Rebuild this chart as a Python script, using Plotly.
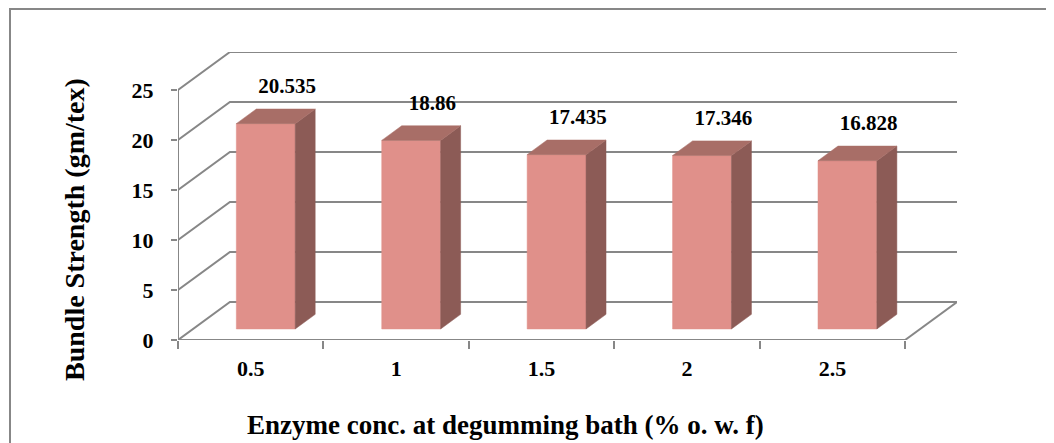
import plotly.graph_objects as go

# ---- data ----
categories = ["0.5", "1", "1.5", "2", "2.5"]
strength = [20.535, 18.86, 17.435, 17.346, 16.828]
y_ticks = [0, 5, 10, 15, 20, 25]
x_title = "Enzyme conc. at degumming bath (% o. w. f)"
y_title = "Bundle Strength (gm/tex)"

# ---- 3D projection parameters (in data units) ----
DX = 0.357      # depth shift along x (category units)
DY = 3.8        # depth shift along y (value units)
F1, F2 = 0.29, 0.675   # bar front/back depth fractions
HALF_W = 0.2025        # half width of bar front face
YMAX = 25

GRID = "#878787"
FRONT = "#E0908A"
TOP = "#A86E67"
SIDE = "#8C5B56"
FONT = "Liberation Serif"

# figure geometry (page has an 8px body margin)
W, H = 1046, 435
ML, MR, MT, MB = 170, 97, 44, 103
PW, PH = W - ML - MR, H - MT - MB

def px(xf):
    return (xf - ML) / PW

def py(yf):
    return (H - MB - yf) / PH

fig = go.Figure()

def line(xs, ys, color=GRID, width=2):
    fig.add_trace(go.Scatter(x=xs, y=ys, mode="lines", line=dict(color=color, width=width),
                             hoverinfo="skip", showlegend=False, cliponaxis=False))

n = len(categories)
x_left, x_right = -0.5, n - 0.5

# back wall gridlines + side wall diagonals
for v in y_ticks:
    line([x_left, x_left + DX, x_right + DX], [v, v + DY, v + DY])
# floor right edge
line([x_right, x_right + DX], [0, DY])
# front axes
line([x_left, x_left], [0, YMAX])
line([x_left, x_right], [0, 0])

# bars
for i, v in enumerate(strength):
    xc = i + F1 * DX
    xl, xr = xc - HALF_W, xc + HALF_W
    b = F1 * DY
    t = v + F1 * DY
    ddx = (F2 - F1) * DX
    ddy = (F2 - F1) * DY
    poly = lambda xs, ys, c: fig.add_trace(go.Scatter(
        x=xs, y=ys, fill="toself", fillcolor=c, mode="lines", line=dict(color=c, width=0.5),
        hoverinfo="skip", showlegend=False, cliponaxis=False))
    poly([xl, xr, xr, xl, xl], [b, b, t, t, b], FRONT)
    poly([xr, xr + ddx, xr + ddx, xr, xr], [b, b + ddy, t + ddy, t, b], SIDE)
    poly([xl, xr, xr + ddx, xl + ddx, xl], [t, t, t + ddy, t + ddy, t], TOP)

# data labels
fig.add_trace(go.Scatter(
    x=[i + 0.25 for i in range(n)], y=[v + 4.7 for v in strength],
    mode="text", text=[f"{v:g}" for v in strength],
    textfont=dict(family=FONT, size=21, color="black", weight="bold"),
    hoverinfo="skip", showlegend=False, cliponaxis=False))

fig.update_layout(
    width=W, height=H,
    margin=dict(l=ML, r=MR, t=MT, b=MB),
    paper_bgcolor="white", plot_bgcolor="white",
    font=dict(family=FONT, size=21, color="black"),
    xaxis=dict(range=[x_left, x_right + DX], tickmode="array",
               tickvals=list(range(n)), ticktext=categories, automargin=False,
               ticks="", showgrid=False, zeroline=False, showline=False,
               tickfont=dict(family=FONT, size=22, color="black", weight="bold"),
               ticklabelstandoff=13,
               minor=dict(tickmode="array", tickvals=[x_left + k for k in range(n + 1)],
                          ticks="outside", ticklen=8, tickwidth=2, tickcolor=GRID,
                          showgrid=False)),
    yaxis=dict(range=[0, YMAX + DY], tickmode="array", tickvals=y_ticks, automargin=False,
               ticks="outside", ticklen=6, tickwidth=2, tickcolor=GRID,
               showgrid=False, zeroline=False, showline=False,
               tickfont=dict(family=FONT, size=22, color="black", weight="bold"),
               ticklabelstandoff=13),
    annotations=[
        dict(text=x_title, xref="paper", yref="paper", x=px(497), y=py(417),
             xanchor="center", yanchor="middle", showarrow=False,
             font=dict(family=FONT, size=27, color="black", weight="bold")),
        dict(text=y_title, xref="paper", yref="paper", x=px(66), y=py(222),
             xanchor="center", yanchor="middle", showarrow=False, textangle=-90,
             font=dict(family=FONT, size=28, color="black", weight="bold")),
    ],
    shapes=[dict(type="rect", xref="paper", yref="paper",
                 x0=px(2), x1=1.3, y0=-0.6, y1=py(1),
                 line=dict(color=GRID, width=2), layer="below")],
)

fig.write_html("out.html")
